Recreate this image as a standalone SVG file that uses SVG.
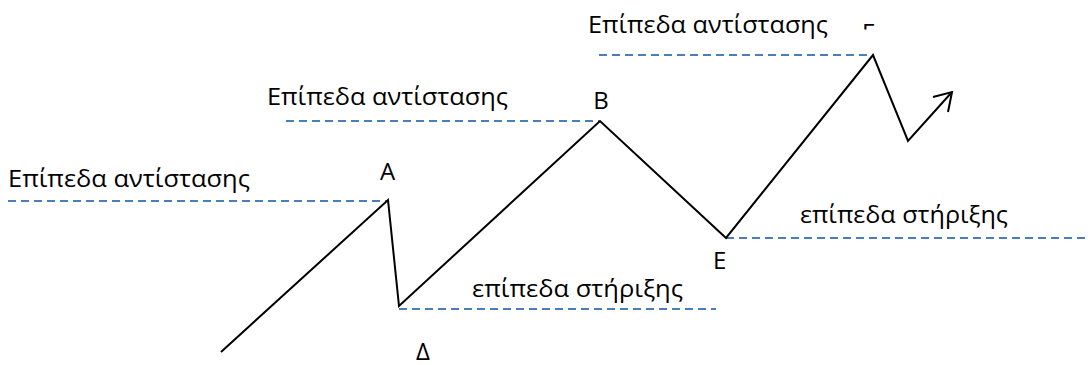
<svg xmlns="http://www.w3.org/2000/svg" width="1088" height="365" viewBox="0 0 1088 365">
  <style>
    .lvl { stroke: #4A7EBB; stroke-width: 2; stroke-dasharray: 8 5; fill: none; }
    .price { stroke: #000; stroke-width: 2; fill: none; stroke-linejoin: miter; }
    .t { font-family: "Open Sans", "Liberation Sans", sans-serif; font-size: 24px; fill: #000; }
  </style>
  <defs>
    <clipPath id="gclip"><rect x="850" y="0" width="40" height="29.5"/></clipPath>
  </defs>
  <g id="connectors">
    <line class="lvl" x1="8" y1="201" x2="387" y2="201"/>
    <line class="lvl" x1="286" y1="121" x2="599" y2="121"/>
    <line class="lvl" x1="599" y1="55" x2="872" y2="55"/>
    <line class="lvl" x1="399" y1="309" x2="716" y2="309"/>
    <line class="lvl" x1="726" y1="238" x2="1088" y2="238"/>
    <polyline class="price" points="221,352 388,200 399,306 600,121 726,238 873,55 908,141 952,92"/>
    <polyline class="price" points="933,97 952,92 948,112"/>
  </g>
  <g id="label-res-1"><text class="t" x="8" y="187" textLength="242" lengthAdjust="spacingAndGlyphs">Επίπεδα αντίστασης</text></g>
  <g id="label-res-2"><text class="t" x="267" y="105" textLength="241" lengthAdjust="spacingAndGlyphs">Επίπεδα αντίστασης</text></g>
  <g id="label-res-3"><text class="t" x="588" y="33" textLength="240" lengthAdjust="spacingAndGlyphs">Επίπεδα αντίστασης</text></g>
  <g id="label-sup-1"><text class="t" x="472" y="297" textLength="211" lengthAdjust="spacingAndGlyphs">επίπεδα στήριξης</text></g>
  <g id="label-sup-2"><text class="t" x="800" y="223" textLength="208" lengthAdjust="spacingAndGlyphs">επίπεδα στήριξης</text></g>
  <g id="node-A"><text class="t" x="387.5" y="180" text-anchor="middle">A</text></g>
  <g id="node-B"><text class="t" x="601" y="109" text-anchor="middle">B</text></g>
  <g id="node-G"><text class="t" x="862" y="41" clip-path="url(#gclip)">Γ</text></g>
  <g id="node-D"><text class="t" x="416" y="360">Δ</text></g>
  <g id="node-E"><text class="t" x="713" y="269">E</text></g>
</svg>
